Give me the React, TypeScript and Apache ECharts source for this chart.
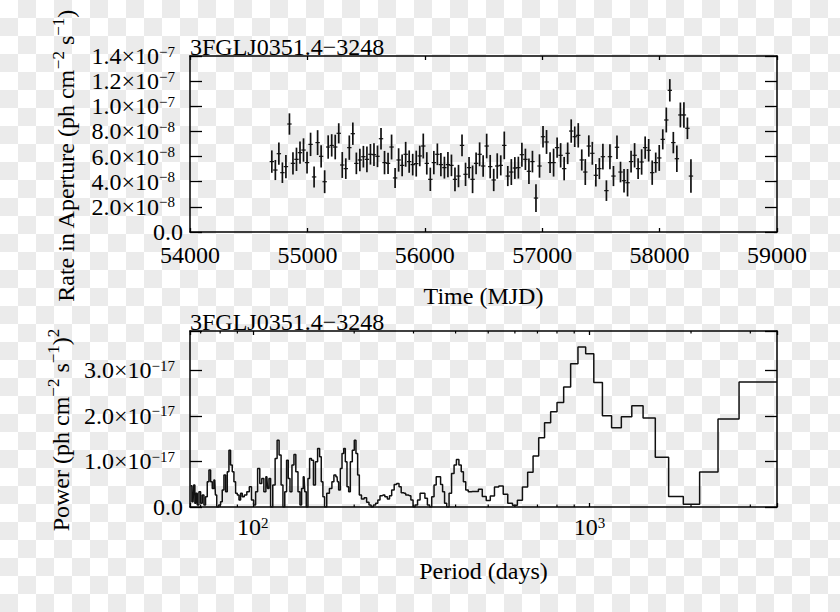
import React, { useEffect, useRef } from 'react';
import * as echarts from 'echarts';

// ---------- data ----------
const SOURCE_NAME = '3FGLJ0351.4\u22123248';

// Light curve: 30-day bins (bin centre, MJD)
const MJD = [
  54697, 54727, 54757, 54787, 54817, 54847, 54877, 54907, 54937, 54967,
  54997, 55027, 55057, 55087, 55117, 55147, 55177, 55207, 55237, 55267,
  55297, 55327, 55357, 55387, 55417, 55447, 55477, 55507, 55537, 55567,
  55597, 55627, 55657, 55687, 55717, 55747, 55777, 55807, 55837, 55867,
  55897, 55927, 55957, 55987, 56017, 56047, 56077, 56107, 56137, 56167,
  56197, 56227, 56257, 56287, 56317, 56347, 56377, 56407, 56437, 56467,
  56497, 56527, 56557, 56587, 56617, 56647, 56677, 56707, 56737, 56767,
  56797, 56827, 56857, 56887, 56917, 56947, 56977, 57007, 57037, 57067,
  57097, 57127, 57157, 57187, 57217, 57247, 57277, 57307, 57337, 57367,
  57397, 57427, 57457, 57487, 57517, 57547, 57577, 57607, 57637, 57667,
  57697, 57727, 57757, 57787, 57817, 57847, 57877, 57907, 57937, 57967,
  57997, 58027, 58057, 58087, 58117, 58147, 58177, 58207, 58237, 58267,
];

// Rate in aperture, units of 1e-8 ph cm^-2 s^-1
const RATE_E8 = [
  5.60, 4.93, 6.23, 4.72, 5.20, 8.59, 5.46, 5.78, 6.31, 6.52,
  5.52, 6.97, 4.38, 7.11, 6.02, 4.00, 6.76, 6.89, 6.76, 7.85,
  5.33, 5.04, 6.71, 7.82, 5.46, 5.73, 5.99, 5.78, 6.18, 6.15,
  6.02, 7.42, 5.52, 5.46, 6.76, 4.30, 5.73, 5.30, 6.18, 5.60,
  5.36, 5.44, 6.05, 6.84, 5.46, 4.19, 5.52, 6.18, 5.36, 5.12,
  5.36, 5.30, 4.19, 4.45, 6.89, 4.59, 5.12, 4.19, 5.46, 6.18,
  5.25, 6.84, 5.20, 4.14, 5.25, 5.30, 6.89, 4.45, 4.77, 5.09,
  5.12, 6.15, 5.78, 4.83, 5.60, 2.70, 5.25, 7.58, 7.16, 5.52,
  5.52, 6.71, 6.10, 5.04, 6.26, 8.03, 7.58, 7.69, 5.73, 4.77,
  6.84, 6.26, 4.51, 5.04, 5.99, 3.29, 5.99, 4.45, 6.74, 4.77,
  4.08, 3.92, 5.60, 6.10, 5.04, 5.57, 6.71, 6.50, 4.72, 5.52,
  5.89, 7.37, 8.91, 11.27, 7.11, 5.83, 9.31, 9.31, 8.25, 4.45,
];

// 1-sigma error, units of 1e-8
const RATE_ERR_E8 = [
  0.89, 0.80, 0.89, 0.82, 0.93, 0.85, 0.89, 0.93, 0.89, 0.93,
  0.86, 0.93, 0.84, 0.99, 0.89, 0.91, 0.93, 0.89, 0.98, 0.80,
  1.03, 0.82, 0.97, 0.89, 0.86, 0.90, 0.86, 1.02, 0.82, 0.90,
  0.86, 0.86, 0.93, 0.84, 0.99, 0.80, 0.93, 0.86, 0.99, 0.89,
  0.86, 1.03, 0.82, 0.99, 0.89, 0.93, 0.93, 0.86, 0.93, 0.87,
  1.00, 0.86, 0.95, 0.89, 0.87, 0.93, 0.84, 1.10, 0.86, 0.95,
  0.86, 0.98, 0.93, 0.89, 1.01, 0.80, 1.10, 0.80, 1.03, 0.87,
  0.87, 0.95, 0.85, 1.01, 0.86, 1.10, 0.93, 0.86, 0.95, 0.82,
  1.11, 0.80, 0.97, 0.93, 0.86, 0.93, 0.82, 0.97, 0.84, 1.03,
  0.85, 0.91, 0.90, 0.84, 1.02, 0.82, 0.99, 0.80, 0.93, 0.82,
  0.93, 1.09, 0.86, 0.97, 0.82, 1.01, 0.89, 0.90, 0.97, 0.80,
  1.03, 0.80, 0.99, 0.89, 0.85, 1.06, 0.99, 1.02, 0.86, 1.33,
];

// Periodogram: period (days) and power (units of 1e-17 (ph cm^-2 s^-1)^2)
const PERIOD_DAYS = [
  65.4, 66.5, 67.0, 67.6, 68.0, 68.8, 69.6, 70.4, 71.2, 72.0,
  72.8, 73.7, 74.5, 75.4, 76.2, 77.1, 77.8, 78.5, 79.8, 80.7,
  81.6, 82.6, 83.5, 84.5, 85.4, 86.4, 87.4, 88.4, 89.4, 90.5,
  91.5, 92.5, 93.6, 95.1, 96.9, 98.4, 99.8, 101.4, 102.5, 104.2,
  105.6, 107.1, 108.6, 110.1, 111.1, 112.3, 113.6, 115.7, 117.3, 118.9,
  120.5, 122.2, 123.6, 125.3, 126.7, 128.2, 129.7, 131.7, 133.3, 135.1,
  137.3, 138.8, 140.4, 142.0, 143.3, 145.0, 146.6, 148.3, 150.4, 152.4,
  154.5, 157.0, 158.8, 160.6, 162.4, 164.3, 167.3, 170.4, 173.1, 175.1,
  177.9, 178.8, 180.9, 183.0, 185.1, 187.2, 189.3, 191.5, 193.7, 195.9,
  199.0, 201.3, 203.6, 206.0, 208.3, 212.2, 216.0, 219.5, 223.1, 226.1,
  229.8, 233.5, 236.7, 240.5, 244.4, 248.9, 252.9, 256.4, 260.5, 265.3,
  269.6, 273.9, 277.7, 282.1, 286.7, 292.0, 297.4, 300.8, 305.6, 311.3,
  316.3, 321.4, 327.3, 332.5, 337.1, 342.5, 348.0, 352.8, 358.5, 363.5,
  368.5, 373.5, 379.5, 385.6, 392.7, 399.1, 405.5, 412.9, 418.6, 425.3,
  432.2, 440.1, 450, 461.5, 473.7, 486.5, 500, 514.3, 529.4, 545.5,
  562.5, 580.6, 600, 620.7, 642.9, 666.7, 692.3, 720, 750, 782.6,
  818.2, 857.1, 900, 947.4, 1000, 1058.8, 1125, 1200, 1285.7, 1384.6,
  1500, 1636.4, 1800, 2000, 2250, 2571.4, 3000, 3600,
];

const POWER_E17 = [
  0.467, 0.117, 0.481, 0.080, 0.299, 0.044, 0.336, 0.080, 0.263, 0.044,
  0.226, 0.554, 0.810, 0.554, 0.408, 0.591, 0.263, 0.0, 0.044, 0.117,
  0.372, 0.700, 0.336, 0.773, 1.247, 0.919, 0.773, 0.554, 0.299, 0.263,
  0.153, 0.299, 0.226, 0.263, 0.336, 0.445, 0.153, 0.044, 0.336, 0.846,
  0.518, 0.627, 0.336, 0.664, 0.408, 0.627, 0.0, 0.481, 1.065, 1.466,
  1.138, 0.481, 0.0, 0.336, 1.028, 0.627, 0.336, 0.919, 1.153, 0.773,
  0.336, 0.044, 0.408, 0.664, 0.336, 0.0, 0.627, 1.065, 1.028, 0.481,
  0.992, 1.284, 1.101, 0.554, 0.226, 0.0, 0.299, 0.408, 0.554, 0.700,
  0.664, 0.554, 0.372, 0.846, 1.174, 1.284, 0.992, 0.445, 0.336, 0.992,
  1.247, 1.466, 1.174, 0.700, 0.263, 0.175, 0.204, 0.102, 0.044, 0.0,
  0.044, 0.080, 0.153, 0.248, 0.263, 0.226, 0.175, 0.248, 0.372, 0.496,
  0.518, 0.445, 0.314, 0.299, 0.263, 0.248, 0.153, 0.0, 0.044, 0.153,
  0.299, 0.299, 0.190, 0.044, 0.0, 0.226, 0.481, 0.664, 0.664, 0.496,
  0.336, 0.080, 0.0, 0.299, 0.737, 0.919, 1.043, 0.919, 0.773, 0.554,
  0.372, 0.336, 0.34, 0.34, 0.39, 0.23, 0.14, 0.24, 0.44, 0.46,
  0.28, 0.08, 0.04, 0.15, 0.44, 0.76, 1.12, 1.52, 1.85, 2.09,
  2.29, 2.63, 3.14, 3.51, 3.36, 2.73, 2.00, 1.74, 1.98, 2.22,
  1.95, 1.09, 0.23, 0.06, 0.77, 1.93, 2.74, 2.74,
];

// log-axis minor tick positions (days)
const MINOR_TICK_PERIODS = [70, 80, 90, 200, 300, 400, 500, 600, 700, 800, 900, 2000, 3000];

// ---------- styling ----------
const FONT = "'Liberation Serif', 'DejaVu Serif', 'Times New Roman', serif";
const INK = '#000000';

const yTickRich = {
  m: { fontFamily: FONT, fontSize: 24, lineHeight: 24, color: INK, verticalAlign: 'bottom' },
  e: { fontFamily: FONT, fontSize: 15, lineHeight: 4, color: INK, verticalAlign: 'top', padding: [0, 8, 0, 0] },
};
const xTickRich = {
  m: { fontFamily: FONT, fontSize: 24, lineHeight: 24, color: INK, verticalAlign: 'bottom' },
  e: { fontFamily: FONT, fontSize: 15, lineHeight: 4, color: INK, verticalAlign: 'top' },
};
const titleRich = {
  n: { fontFamily: FONT, fontSize: 24, lineHeight: 28, color: INK, verticalAlign: 'bottom' },
  s: { fontFamily: FONT, fontSize: 17, lineHeight: 4, color: INK, verticalAlign: 'top' },
};

function sciLabel(v: number, step: number): string {
  const r = v / step;
  if (Math.abs(r - Math.round(r)) > 1e-6) return '';
  if (Math.abs(v) < step * 1e-6) return '{m|0.0}';
  const e = Math.floor(Math.log10(v) + 1e-9);
  const m = (v / Math.pow(10, e)).toFixed(1);
  return `{m|${m}\u00d710}{e|${e < 0 ? '\u2212' : ''}${Math.abs(e)}}`;
}

function logLabel(v: number): string {
  const l = Math.log10(v);
  const r = Math.round(l);
  if (Math.abs(l - r) > 1e-6) return '';
  return `{m|10}{e|${r}}`;
}

const axisLine = { show: true, onZero: false, lineStyle: { color: INK, width: 1.5 } };
const tick = (len: number) => ({ show: true, inside: true, length: len, lineStyle: { color: INK, width: 1.3 } });
const noSplit = { show: false };

const T_MIN = 54000, T_MAX = 59000, T_STEP = 1000;
const R_MAX = 1.4e-7, R_STEP = 2e-8;
const P_MIN = 65.1, P_MAX = 3600;
const W_MAX = 3.86e-17, W_STEP = 1e-17;

function buildOption(): any {
  const lightCurve = MJD.map((t, i) => [t, RATE_E8[i] * 1e-8, RATE_ERR_E8[i] * 1e-8]);
  const periodogram = PERIOD_DAYS.map((p, i) => [p, POWER_E17[i] * 1e-17]);
  const minorTicks = MINOR_TICK_PERIODS.map((p) => [p, 0]);

  const titleText = {
    fontFamily: FONT, fontSize: 24, fontWeight: 'normal', color: INK, lineHeight: 24,
  };

  return {
    animation: false,
    backgroundColor: 'transparent',
    title: [
      { text: SOURCE_NAME, left: 190, top: 35, padding: 0, textStyle: titleText },
      { text: SOURCE_NAME, left: 190, top: 310, padding: 0, textStyle: titleText },
    ],
    grid: [
      { left: 190, top: 56, width: 587, height: 176, containLabel: false, outerBoundsMode: 'none' },
      { left: 190, top: 331, width: 587, height: 176, containLabel: false, outerBoundsMode: 'none' },
    ],
    xAxis: [
      {
        gridIndex: 0, type: 'value', position: 'bottom', min: T_MIN, max: T_MAX, interval: T_STEP,
        axisLine, axisTick: tick(4), splitLine: noSplit,
        axisLabel: { margin: 11, showMinLabel: true, showMaxLabel: true, formatter: (v: number) => `{m|${v}}`, rich: xTickRich },
        name: 'Time (MJD)', nameLocation: 'middle', nameGap: 52,
        nameTextStyle: { fontFamily: FONT, fontSize: 24, lineHeight: 24, color: INK },
      },
      {
        gridIndex: 0, type: 'value', position: 'top', min: T_MIN, max: T_MAX, interval: T_STEP,
        axisLine, axisTick: tick(4), splitLine: noSplit, axisLabel: { show: false },
      },
      {
        gridIndex: 1, type: 'log', logBase: 10, position: 'bottom', min: P_MIN, max: P_MAX,
        axisLine, axisTick: tick(4), splitLine: noSplit,
        axisLabel: { margin: 8, showMinLabel: true, showMaxLabel: true, formatter: logLabel, rich: xTickRich },
        name: 'Period (days)', nameLocation: 'middle', nameGap: 52,
        nameTextStyle: { fontFamily: FONT, fontSize: 24, lineHeight: 24, color: INK },
      },
      {
        gridIndex: 1, type: 'log', logBase: 10, position: 'top', min: P_MIN, max: P_MAX,
        axisLine, axisTick: tick(4), splitLine: noSplit, axisLabel: { show: false },
      },
    ],
    yAxis: [
      {
        gridIndex: 0, type: 'value', position: 'left', min: 0, max: R_MAX, interval: R_STEP,
        axisLine, axisTick: tick(12), splitLine: noSplit,
        axisLabel: { margin: 7, showMinLabel: true, showMaxLabel: true, formatter: (v: number) => sciLabel(v, R_STEP), rich: yTickRich },
        name: '{n|Rate in Aperture (ph cm}{s|\u22122}{n| s}{s|\u22121}{n|)}',
        nameLocation: 'middle', nameRotate: 90, nameGap: 112,
        nameTextStyle: { rich: titleRich, padding: [0, 24, 0, 0] },
      },
      {
        gridIndex: 0, type: 'value', position: 'right', min: 0, max: R_MAX, interval: R_STEP,
        axisLine, axisTick: tick(12), splitLine: noSplit, axisLabel: { show: false },
      },
      {
        gridIndex: 1, type: 'value', position: 'left', min: 0, max: W_MAX, interval: W_STEP,
        axisLine, axisTick: tick(12), splitLine: noSplit,
        axisLabel: { margin: 7, showMinLabel: true, showMaxLabel: true, formatter: (v: number) => sciLabel(v, W_STEP), rich: yTickRich },
        name: '{n|Power (ph cm}{s|\u22122}{n| s}{s|\u22121}{n|)}{s|2}',
        nameLocation: 'middle', nameRotate: 90, nameGap: 112,
        nameTextStyle: { rich: titleRich, padding: [0, 22, 0, 0] },
      },
      {
        gridIndex: 1, type: 'value', position: 'right', min: 0, max: W_MAX, interval: W_STEP,
        axisLine, axisTick: tick(12), splitLine: noSplit, axisLabel: { show: false },
      },
    ],
    series: [
      {
        type: 'custom', name: 'rate', xAxisIndex: 0, yAxisIndex: 0, silent: true,
        data: lightCurve,
        encode: { x: 0, y: 1 },
        renderItem: (params: any, api: any) => {
          const t = api.value(0), v = api.value(1), e = api.value(2);
          const c = api.coord([t, v]);
          const lo = api.coord([t, v - e]);
          const hi = api.coord([t, v + e]);
          return {
            type: 'group',
            children: [
              { type: 'line', shape: { x1: c[0], y1: lo[1], x2: c[0], y2: hi[1] }, style: { stroke: '#111', lineWidth: 1.7 } },
              { type: 'line', shape: { x1: c[0] - 2.2, y1: c[1], x2: c[0] + 2.2, y2: c[1] }, style: { stroke: '#111', lineWidth: 1.2 } },
            ],
          };
        },
      },
      {
        type: 'line', name: 'power', xAxisIndex: 2, yAxisIndex: 2, silent: true,
        data: periodogram, step: 'middle', showSymbol: false, symbol: 'none',
        lineStyle: { color: '#111', width: 1.5 },
      },
      {
        type: 'custom', name: 'minorTicks', xAxisIndex: 2, yAxisIndex: 2, silent: true,
        data: minorTicks, encode: { x: 0, y: 1 },
        renderItem: (params: any, api: any) => {
          const cs = params.coordSys;
          const p = api.coord([api.value(0), api.value(1)]);
          const x = p[0];
          const yb = cs.y + cs.height;
          const yt = cs.y;
          return {
            type: 'group',
            children: [
              { type: 'line', shape: { x1: x, y1: yb, x2: x, y2: yb - 2.5 }, style: { stroke: INK, lineWidth: 1.2 } },
              { type: 'line', shape: { x1: x, y1: yt, x2: x, y2: yt + 2.5 }, style: { stroke: INK, lineWidth: 1.2 } },
            ],
          };
        },
      },
    ],
  };
}

export default function App() {
  const ref = useRef<HTMLDivElement>(null);
  useEffect(() => {
    if (!ref.current) return;
    const chart = echarts.init(ref.current, null, { renderer: 'svg' });
    chart.setOption(buildOption());
    return () => chart.dispose();
  }, []);
  return (
    <div
      style={{
        position: 'absolute', left: 0, top: 0, width: 840, height: 612,
        backgroundColor: '#ffffff',
        backgroundImage: 'conic-gradient(#ebebeb 0 25%, #ffffff 0 50%, #ebebeb 0 75%, #ffffff 0)',
        backgroundSize: '36px 36px',
      }}
    >
      <div ref={ref} style={{ width: 840, height: 612 }} />
    </div>
  );
}
